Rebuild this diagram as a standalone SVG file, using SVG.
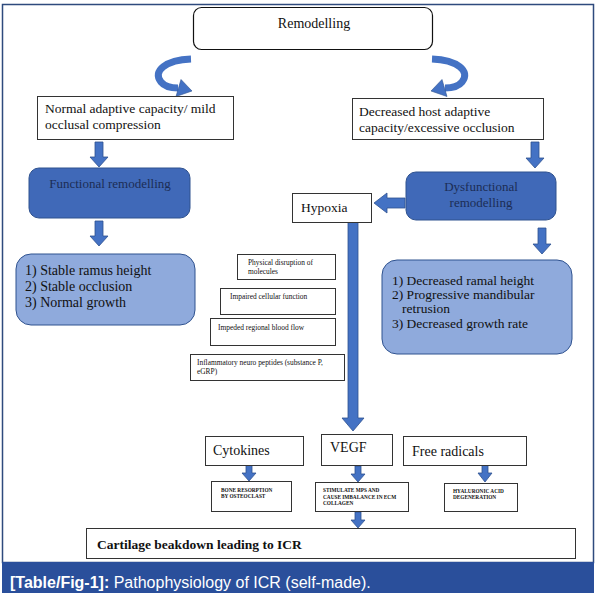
<svg xmlns="http://www.w3.org/2000/svg" width="598" height="595" viewBox="0 0 598 595">
<style>
.box{fill:#fff;stroke:#333;stroke-width:1}
.dark{fill:#4069b8;stroke:#2f528f;stroke-width:1}
.light{fill:#8faadc;stroke:#2f528f;stroke-width:1}
.arr{fill:#4472c4;stroke:#2f528f;stroke-width:0.8}
.t{font-family:"Liberation Serif","Times New Roman",serif;fill:#111}
.t14{font-size:14px}
.t13{font-size:13.5px}
.tw{font-family:"Liberation Serif","Times New Roman",serif;font-size:13px;fill:#1c2d55}
.s{font-family:"Liberation Serif","Times New Roman",serif;font-size:7.4px;fill:#111}
.c{font-family:"Liberation Serif","Times New Roman",serif;font-size:5.3px;font-weight:bold;fill:#111}
.cap{font-family:"Liberation Sans",Arial,sans-serif;font-size:16px;fill:#fff}
</style>
<defs>
<g id="curl">
<path d="M191 59 C166 60 152 71 161 82 C165 87 171 88 178 88" fill="none" stroke="#4472c4" stroke-width="7"/>
<polygon points="176,96.5 181,79.5 192,91" fill="#4472c4" stroke="#2f528f" stroke-width="0.6"/>
</g>
</defs>
<rect x="2.5" y="4.5" width="591" height="558" fill="#fff" stroke="#2e4a7d" stroke-width="1.5"/>

<g id="connectors">
<use href="#curl"/>
<use href="#curl" transform="translate(623,0) scale(-1,1)"/>
<polygon class="arr" points="95,142 103,142 103,157 108,157 99,167 90,157 95,157"/>
<polygon class="arr" points="95,221 103,221 103,236 108,236 99,246 90,236 95,236"/>
<polygon class="arr" points="531,142 539,142 539,158 544,158 535,168 526,158 531,158"/>
<polygon class="arr" points="538,228 546,228 546,244 551,244 542,254 533,244 538,244"/>
<polygon class="arr" points="405,198 387,198 387,193 374,203 387,213 387,208 405,208"/>
<polygon class="arr" points="348,222 358,222 358,418 364,418 353,431 342,418 348,418"/>
<polygon class="arr" points="246,465 252,465 252,473 256,473 249,481 242,473 246,473"/>
<polygon class="arr" points="355,466 361,466 361,474 365,474 358,482 351,474 355,474"/>
<polygon class="arr" points="482,465 488,465 488,473 492,473 485,482 478,473 482,473"/>
<polygon class="arr" points="355,512 361,512 361,520 365,520 358,528 351,520 355,520"/>
</g>

<g id="remodelling">
<rect x="193.5" y="7.5" width="239" height="42" rx="8" fill="#fff" stroke="#111" stroke-width="1.2"/>
<text class="t t14" x="314" y="28" text-anchor="middle">Remodelling</text>
</g>
<g id="normal">
<rect class="box" x="37.5" y="96.5" width="196" height="43"/>
<text class="t t13" x="45" y="113">Normal adaptive capacity/ mild</text>
<text class="t t13" x="45" y="129">occlusal compression</text>
</g>
<g id="decreased-host">
<rect class="box" x="352.5" y="98.5" width="191" height="41"/>
<text class="t t13" x="359" y="116">Decreased host adaptive</text>
<text class="t t13" x="359" y="132">capacity/excessive occlusion</text>
</g>
<g id="functional">
<rect class="dark" x="29" y="168" width="161" height="50" rx="10"/>
<text class="tw" x="110" y="188" text-anchor="middle">Functional remodelling</text>
</g>
<g id="dysfunctional">
<rect class="dark" x="406" y="172" width="150" height="48" rx="10"/>
<text class="tw" x="481" y="191" text-anchor="middle">Dysfunctional</text>
<text class="tw" x="481" y="207" text-anchor="middle">remodelling</text>
</g>
<g id="stable">
<rect class="light" x="16" y="254" width="179" height="71" rx="15"/>
<text class="t t14" x="25" y="275">1) Stable ramus height</text>
<text class="t t14" x="25" y="291">2) Stable occlusion</text>
<text class="t t14" x="25" y="307">3) Normal growth</text>
</g>
<g id="decreased">
<rect class="light" x="382" y="260" width="190" height="94" rx="15"/>
<text class="t t13" x="392" y="285">1) Decreased ramal height</text>
<text class="t t13" x="392" y="299">2) Progressive mandibular</text>
<text class="t t13" x="402" y="313">retrusion</text>
<text class="t t13" x="392" y="328">3) Decreased growth rate</text>
</g>
<g id="hypoxia">
<rect class="box" x="292.5" y="193.5" width="79" height="29"/>
<text class="t t13" x="301" y="212">Hypoxia</text>
</g>
<g id="physical">
<rect class="box" x="237.5" y="254.5" width="98" height="25"/>
<text class="s" x="248" y="265">Physical disruption of</text>
<text class="s" x="248" y="274">molecules</text>
</g>
<g id="impaired">
<rect class="box" x="220.5" y="288.5" width="115" height="26"/>
<text class="s" x="230" y="299">Impaired cellular function</text>
</g>
<g id="impeded">
<rect class="box" x="210.5" y="318.5" width="125" height="27"/>
<text class="s" x="218" y="330">Impeded regional blood flow</text>
</g>
<g id="inflammatory">
<rect class="box" x="190.5" y="354.5" width="154" height="26"/>
<text class="s" x="197" y="365">Inflammatory neuro peptides (substance P,</text>
<text class="s" x="197" y="374">eGRP)</text>
</g>
<g id="cytokines">
<rect class="box" x="205.5" y="436.5" width="98" height="29"/>
<text class="t t14" x="213" y="455">Cytokines</text>
</g>
<g id="vegf">
<rect class="box" x="321.5" y="434.5" width="71" height="31"/>
<text class="t t14" x="330" y="452">VEGF</text>
</g>
<g id="free-radicals">
<rect class="box" x="403.5" y="436.5" width="123" height="29"/>
<text class="t t14" x="412" y="456">Free radicals</text>
</g>
<g id="bone">
<rect class="box" x="211.5" y="481.5" width="80" height="30"/>
<text class="c" x="221" y="492">BONE RESORPTION</text>
<text class="c" x="221" y="498">BY OSTEOCLAST</text>
</g>
<g id="stimulate">
<rect class="box" x="315.5" y="482.5" width="93" height="29"/>
<text class="c" x="323" y="492">STIMULATE MPS AND</text>
<text class="c" x="323" y="498.5">CAUSE IMBALANCE IN ECM</text>
<text class="c" x="323" y="505">COLLAGEN</text>
</g>
<g id="hyaluronic">
<rect class="box" x="444.5" y="483.5" width="73" height="28"/>
<text class="c" x="453" y="493">HYALURONIC ACID</text>
<text class="c" x="453" y="499">DEGENERATION</text>
</g>
<g id="cartilage">
<rect class="box" x="86.5" y="528.5" width="489" height="30"/>
<text class="t" x="97" y="549" font-size="13.5" font-weight="bold">Cartilage beakdown leading to ICR</text>
</g>
<g id="caption">
<rect x="2" y="562" width="592" height="31" fill="#2a4f9b"/>
<text class="cap" x="10" y="588"><tspan font-weight="bold">[Table/Fig-1]:</tspan> Pathophysiology of ICR (self-made).</text>
</g>
</svg>
